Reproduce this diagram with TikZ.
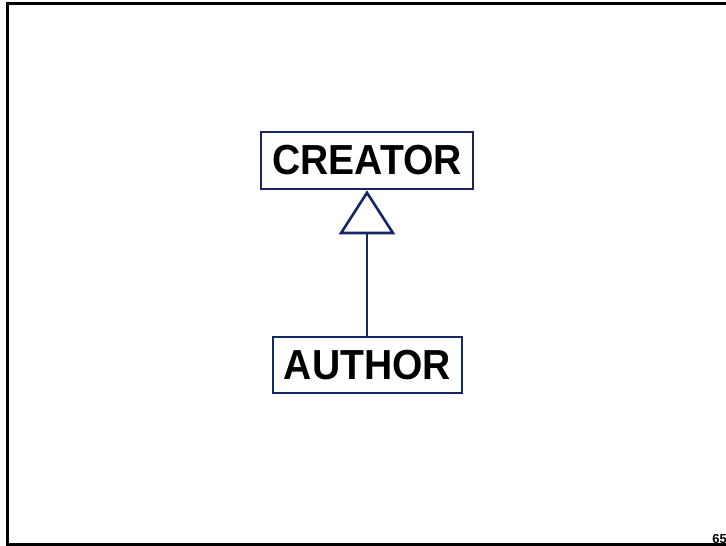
\documentclass[tikz,border=0pt]{standalone}
\usepackage{fontspec}
\setmainfont{Liberation Sans}
\usetikzlibrary{arrows.meta}
\definecolor{navy}{RGB}{22,38,100}
\begin{document}
\begin{tikzpicture}[x=1pt,y=-1pt,
  classbox/.style={draw=navy,line width=2.6pt,fill=white,inner sep=0pt,
    font=\fontsize{42}{42}\selectfont\bfseries},
  inherit/.style={draw=navy,line width=2.6pt,
    -{Triangle[open,length=44pt,width=56pt,line width=2.6pt]}}]
\useasboundingbox (0,0) rectangle (726,546);
% slide frame
\draw[line width=3pt] (726,3) -- (7,3) -- (7,544) -- (726,544);
\node[font=\fontsize{13}{13}\selectfont\bfseries,anchor=base east,inner sep=0pt] (pg) at (727,543) {65};
% classes
\node[classbox,minimum width=212pt,minimum height=57pt] (creator) at (367,160.5)
  {\scalebox{0.93}[1]{CREATOR}};
\node[classbox,minimum width=189pt,minimum height=56pt] (author) at (367.5,365)
  {\scalebox{0.93}[1]{AUTHOR}};
% generalization
\draw[inherit] (author.north -| creator.south) -- (creator.south);
\end{tikzpicture}
\end{document}
